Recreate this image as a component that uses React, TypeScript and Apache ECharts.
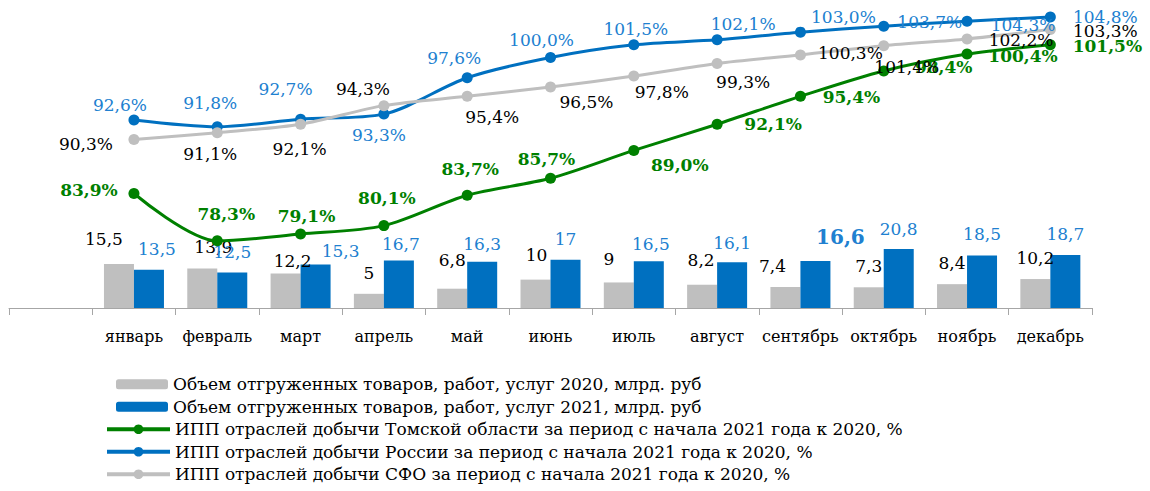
import React, { useEffect, useRef } from "react";
import * as echarts from "echarts";

const months = ["январь", "февраль", "март", "апрель", "май", "июнь", "июль", "август", "сентябрь", "октябрь", "ноябрь", "декабрь"];
const ship2020 = [15.5, 13.9, 12.2, 5, 6.8, 10, 9, 8.2, 7.4, 7.3, 8.4, 10.2];
const ship2021 = [13.5, 12.5, 15.3, 16.7, 16.3, 17, 16.5, 16.1, 16.6, 20.8, 18.5, 18.7];
const tomsk = [83.9, 78.3, 79.1, 80.1, 83.7, 85.7, 89.0, 92.1, 95.4, 98.4, 100.4, 101.5];
const russia = [92.6, 91.8, 92.7, 93.3, 97.6, 100.0, 101.5, 102.1, 103.0, 103.7, 104.3, 104.8];
const sfo = [90.3, 91.1, 92.1, 94.3, 95.4, 96.5, 97.8, 99.3, 100.3, 101.4, 102.2, 103.3];

const seriesNames = [
  "Объем отгруженных товаров, работ, услуг 2020, млрд. руб",
  "Объем отгруженных товаров, работ, услуг 2021, млрд. руб",
  "ИПП отраслей добычи Томской области за период с начала 2021 года к 2020, %",
  "ИПП отраслей добычи России за период с начала 2021 года к 2020, %",
  "ИПП отраслей добычи СФО за период с начала 2021 года к 2020, %",
];

// label placement offsets (layout only)
const off2020 = [[-15, -17], [11, -13], [7, -4], [0, -12], [0, -20], [1, -16], [-10, -15], [-1, -16], [-13, -12], [0, -13], [0, -13], [0, -13]];
const off2021 = [[8, -12], [0, -12], [25, -5], [2, -8], [0, -9], [0, -12], [2, -9], [0, -11], [25, -14], [0, -11], [0, -13], [0, -12]];
const offRussia = [[-14, -15], [-7, -24], [-15, -30], [-5, 21], [-13, -20], [-9, -17], [2, -16], [26, -16], [43, -15], [46, -4], [56, 4], [55, 0]];
const offSfo = [[-48, 5], [-7, 21], [-1, 25], [-21, -17], [25, 21], [36, 15], [28, 16], [26, 19], [50, -2], [23, 21], [54, 1], [55, 1]];
const offTomsk = [[-45, -4], [9, -27], [6, -18], [3, -28], [3, -26], [-4, -19], [46, 15], [56, 0], [51, 1], [60, -4], [56, 2], [57, 1]];

const FONT = "DejaVu Serif";
const BLUE_TXT = "#2080D0";

const numFmt = (v: number) => String(v).replace(".", ",");
const pctFmt = (v: number) => v.toFixed(1).replace(".", ",") + "%";

function barData(vals: number[], offs: number[][], boldIdx: number) {
  return [
    null,
    ...vals.map((v, i) => ({
      value: v,
      label: {
        offset: offs[i],
        ...(i === boldIdx ? { fontWeight: "bold", fontSize: 20 } : {}),
      },
    })),
  ];
}

function lineData(vals: number[], offs: number[][]) {
  return [null, ...vals.map((v, i) => ({ value: v, label: { offset: offs[i] } }))];
}

export default function App() {
  const ref = useRef<HTMLDivElement>(null);
  useEffect(() => {
    if (!ref.current) return;
    const chart = echarts.init(ref.current, null, { renderer: "svg" });
    const cats = ["", ...months];
    const lineCommon = (name: string, color: string, data: any[], lblColor: string, bold: boolean) => ({
      name,
      type: "line",
      yAxisIndex: 1,
      data,
      smooth: 0.3,
      connectNulls: false,
      symbol: "circle",
      symbolSize: 11,
      lineStyle: { color, width: 3 },
      itemStyle: { color },
      label: {
        show: true,
        position: "inside",
        formatter: (p: any) => pctFmt(p.value),
        color: lblColor,
        fontFamily: FONT,
        fontSize: 17,
        fontWeight: bold ? "bold" : "normal",
      },
    });
    const legendText = { fontFamily: FONT, fontSize: 17, color: "#000", lineHeight: 22.5 };
    chart.setOption({
      animation: false,
      grid: { left: 9, right: 58, top: 10, bottom: 183, containLabel: false },
      legend: [
        {
          orient: "vertical",
          left: 116,
          top: 373,
          padding: 0,
          itemWidth: 52,
          itemHeight: 10,
          itemGap: 0,
          textStyle: legendText,
          data: seriesNames.slice(0, 2),
        },
        {
          orient: "vertical",
          left: 105,
          top: 418,
          padding: 0,
          itemWidth: 63,
          itemHeight: 12,
          itemGap: 0,
          lineStyle: { width: 4 },
          textStyle: legendText,
          data: seriesNames.slice(2),
        },
      ],
      xAxis: {
        type: "category",
        data: cats,
        axisLine: { lineStyle: { color: "#A6A6A6", width: 1 } },
        axisTick: { show: true, length: 7, lineStyle: { color: "#A6A6A6" } },
        axisLabel: { fontFamily: FONT, fontSize: 16, color: "#000", margin: 20, interval: 0 },
      },
      yAxis: [
        { type: "value", min: 0, max: 105, show: false, splitLine: { show: false } },
        { type: "value", min: 70.35, max: 105.62, show: false, splitLine: { show: false } },
      ],
      series: [
        {
          name: seriesNames[0],
          type: "bar",
          barWidth: 30,
          barGap: "0%",
          data: barData(ship2020, off2020, -1),
          itemStyle: { color: "#BFBFBF" },
          label: { show: true, position: "top", distance: 0, formatter: (p: any) => numFmt(p.value), color: "#000", fontFamily: FONT, fontSize: 17 },
        },
        {
          name: seriesNames[1],
          type: "bar",
          barWidth: 30,
          barGap: "0%",
          data: barData(ship2021, off2021, 8),
          itemStyle: { color: "#0070C0" },
          label: { show: true, position: "top", distance: 0, formatter: (p: any) => numFmt(p.value), color: BLUE_TXT, fontFamily: FONT, fontSize: 17 },
        },
        lineCommon(seriesNames[2], "#008000", lineData(tomsk, offTomsk), "#008000", true),
        lineCommon(seriesNames[3], "#0070C0", lineData(russia, offRussia), BLUE_TXT, false),
        lineCommon(seriesNames[4], "#BFBFBF", lineData(sfo, offSfo), "#000", false),
      ],
    });
    return () => chart.dispose();
  }, []);
  return <div ref={ref} style={{ position: "absolute", left: 0, top: 0, width: 1150, height: 491 }} />;
}
